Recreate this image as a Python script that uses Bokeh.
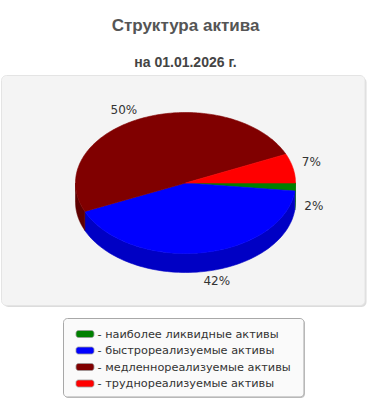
import numpy as np
from bokeh.plotting import figure
from bokeh.models import Range1d
from bokeh.core.properties import value
from bokeh.embed import file_html
from bokeh.resources import INLINE

# ---------------- data ----------------
title = "Структура актива"
subtitle = "на 01.01.2026 г."
categories = [
    "наиболее ликвидные активы",
    "быстрореализуемые активы",
    "медленнореализуемые активы",
    "труднореализуемые активы",
]
shares = [1.8, 41.6, 49.9, 6.7]
colors = ["#008000", "#0000ff", "#800000", "#ff0000"]
side_colors = ["#006400", "#0000c4", "#5e0000", "#c00000"]

# ---------------- layout ----------------
W, H = 370, 400
p = figure(width=W, height=H, x_range=Range1d(0, W), y_range=Range1d(H, 0),
           output_backend="svg", toolbar_location=None, min_border=0,
           x_axis_location=None, y_axis_location=None,
           outline_line_color=None, background_fill_color="white",
           border_fill_color="white")
p.grid.visible = False


def rrect(x0, y0, x1, y1, r, n=8):
    xs, ys = [], []
    corners = [(x1 - r, y0 + r, -90, 0), (x1 - r, y1 - r, 0, 90),
               (x0 + r, y1 - r, 90, 180), (x0 + r, y0 + r, 180, 270)]
    for cx, cy, a0, a1 in corners:
        t = np.radians(np.linspace(a0, a1, n))
        xs.extend(cx + r * np.cos(t))
        ys.extend(cy + r * np.sin(t))
    return list(xs), list(ys)


# titles
p.text(x=[W / 2], y=[25], text=[title], text_font=value("Liberation Sans"),
       text_font_style="bold", text_font_size="17px", text_color="#555555",
       text_align="center", text_baseline="middle")
p.text(x=[W / 2], y=[61.5], text=[subtitle], text_font=value("Liberation Sans"),
       text_font_style="bold", text_font_size="14px", text_color="#444444",
       text_align="center", text_baseline="middle")

# plot panel
sx, sy = rrect(3, 77, 366, 306.5, 5)
p.patch(sx, sy, fill_color="#dcdcdc", line_color=None)
bx, by = rrect(1, 75, 364.5, 305, 5)
p.patch(bx, by, fill_color="#f4f4f4", line_color="#e4e4e4", line_width=1)

# ---------------- 3D pie ----------------
cx, cy, rx, ry, depth = 185, 182.5, 110, 70.5, 19
total = sum(shares)
cum = np.concatenate([[0], np.cumsum(shares)]) / total * 360.0
starts = -cum[:-1]
ends = -cum[1:]


def ex(a):
    return cx + rx * np.cos(np.radians(a))


def ey(a):
    return cy - ry * np.sin(np.radians(a))


# side walls (front half: math angles -180..0)
for a0, a1, sc in zip(starts, ends, side_colors):
    hi = min(a0, 0.0)
    lo = max(a1, -180.0)
    if lo < hi:
        t = np.linspace(hi, lo, 80)
        xs = list(ex(t)) + list(ex(t[::-1]))
        ys = list(ey(t)) + list(ey(t[::-1]) + depth)
        p.patch(xs, ys, fill_color=sc, line_color=sc, line_width=0.6)

# top faces
for a0, a1, c in zip(starts, ends, colors):
    n = max(int(abs(a0 - a1)), 4)
    t = np.linspace(a0, a1, n)
    xs = [cx] + list(ex(t))
    ys = [cy] + list(ey(t))
    p.patch(xs, ys, fill_color=c, line_color=c, line_width=0.6)

# percent labels
off = 9
for a0, a1, s in zip(starts, ends, shares):
    m = (a0 + a1) / 2
    c, sn = np.cos(np.radians(m)), np.sin(np.radians(m))
    x = ex(m) + off * c
    y = ey(m) - off * sn + (depth if sn < 0 else 0)
    if sn > 0 and c > 0:
        y -= 4
    p.text(x=[x], y=[y], text=[f"{round(s / total * 100):.0f}%"],
           text_font=value("DejaVu Sans"), text_font_size="12px",
           text_color="#333333", text_align="left" if c >= 0 else "right",
           text_baseline="middle")

# ---------------- legend ----------------
lsx, lsy = rrect(64, 319, 304.5, 397.5, 4)
p.patch(lsx, lsy, fill_color="#c8c8c8", line_color=None)
lx, ly = rrect(63, 318, 303.5, 396.5, 4)
p.patch(lx, ly, fill_color="#fafafa", line_color="#a8a8a8", line_width=1)

row0, step = 333.5, 16.5
for i, (cat, c) in enumerate(zip(categories, colors)):
    yy = row0 + i * step
    swx, swy = rrect(75.5, yy - 3.5, 93.5, yy + 3.5, 2.5, 5)
    p.patch(swx, swy, fill_color=c, line_color="#999999", line_width=0.8)
    p.text(x=[97], y=[yy], text=["- " + cat], text_font=value("DejaVu Sans"),
           text_font_size="11.3px", text_color="#333333", text_align="left",
           text_baseline="middle")

open("out.html", "w").write(file_html(p, INLINE))
